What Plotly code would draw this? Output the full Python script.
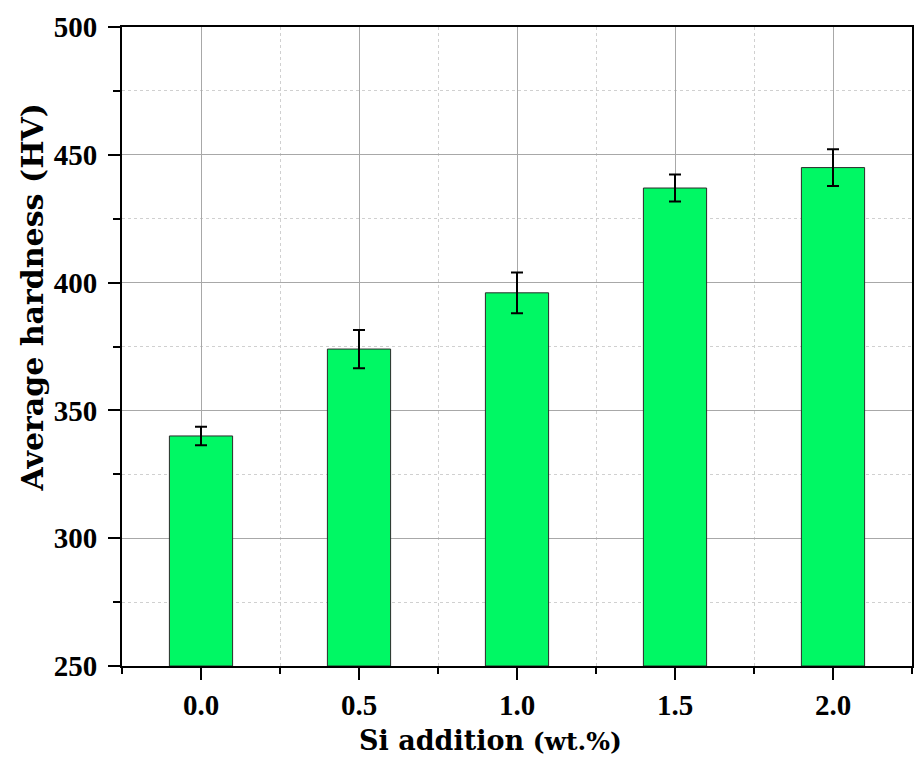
import plotly.graph_objects as go

si_addition = [0.0, 0.5, 1.0, 1.5, 2.0]
tick_labels = ["0.0", "0.5", "1.0", "1.5", "2.0"]
hardness = [340, 374, 396, 437, 445]
hardness_err = [3.6, 7.5, 8.0, 5.3, 7.2]
minor_x = [-0.25, 0.25, 0.75, 1.25, 1.75, 2.25]

TICKFONT = "Liberation Serif"
TITLEFONT = "DejaVu Serif"

fig = go.Figure()
fig.add_trace(go.Bar(
    x=si_addition, y=[h - 250 for h in hardness], base=250,
    width=0.2,
    marker=dict(color="#00F864", line=dict(color="#2a2a2a", width=1)),
    error_y=dict(type="data", array=hardness_err, color="black", thickness=2, width=6),
    hoverinfo="skip",
))

fig.update_layout(
    width=914, height=762,
    margin=dict(l=122, r=0, t=27, b=96),
    plot_bgcolor="white", paper_bgcolor="white",
    showlegend=False,
    font=dict(family=TICKFONT, color="black"),
    xaxis=dict(
        range=[-0.25, 2.25],
        tickmode="array", tickvals=si_addition, ticktext=tick_labels,
        ticks="outside", ticklen=12, tickwidth=2, tickcolor="black",
        tickfont=dict(family=TICKFONT, size=29, color="black", weight="bold"),
        ticklabelstandoff=0,
        showline=True, linecolor="black", linewidth=2, mirror=True,
        showgrid=True, gridcolor="#a8a8a8", gridwidth=1,
        zeroline=False,
        minor=dict(tickvals=minor_x, ticks="outside", ticklen=6, tickwidth=2, tickcolor="black",
                   showgrid=True, gridcolor="#d0d0d0", griddash="dot", gridwidth=1),
    ),
    yaxis=dict(
        range=[250, 500],
        tickmode="linear", tick0=250, dtick=50,
        ticks="outside", ticklen=12, tickwidth=2, tickcolor="black",
        tickfont=dict(family=TICKFONT, size=29, color="black", weight="bold"),
        ticklabelstandoff=5,
        showline=True, linecolor="black", linewidth=2, mirror=True,
        showgrid=True, gridcolor="#a8a8a8", gridwidth=1,
        zeroline=False,
        minor=dict(tick0=250, dtick=25, ticks="outside", ticklen=7, tickwidth=2, tickcolor="black",
                   showgrid=True, gridcolor="#d0d0d0", griddash="dot", gridwidth=1),
    ),
    annotations=[
        dict(text="<b>Si addition</b> <b><span style='font-size:25px'>(wt.%)</span></b>",
             xref="paper", yref="paper", x=0.466, y=-0.117,
             xanchor="center", yanchor="middle", showarrow=False,
             font=dict(family=TITLEFONT, size=27, color="black")),
        dict(text="<b>Average hardness (HV)</b>",
             xref="paper", yref="paper", x=-0.1136, y=0.577,
             xanchor="center", yanchor="middle", textangle=-90, showarrow=False,
             font=dict(family=TITLEFONT, size=30, color="black")),
    ],
)

fig.write_html("out.html")
